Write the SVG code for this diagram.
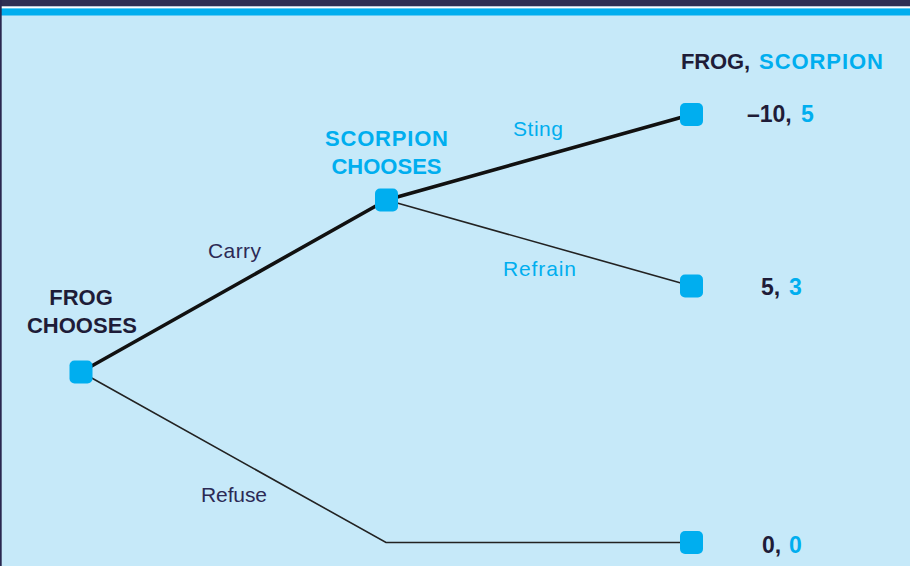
<svg xmlns="http://www.w3.org/2000/svg" width="910" height="566" viewBox="0 0 910 566">
  <style>
    .node { fill: #00aeef; }
    .thick { stroke: #111111; stroke-width: 3.6; fill: none; stroke-linecap: round; }
    .thin { stroke: #222222; stroke-width: 1.6; fill: none; }
    .head { font-family: "Liberation Sans", Arial, sans-serif; font-weight: bold; font-size: 22px; }
    .lbl { font-family: "Liberation Sans", Arial, sans-serif; font-size: 21px; }
    .pay { font-family: "Liberation Sans", Arial, sans-serif; font-weight: bold; font-size: 23px; }
    .dark { fill: #1e1c38; }
    .navy { fill: #2c2a55; }
    .blue { fill: #00aeef; }
  </style>

  <!-- panel background and top rule -->
  <rect x="0" y="0" width="910" height="566" fill="#c6e9f9"/>
  <rect x="0" y="0" width="910" height="6.5" fill="#302f54"/>
  <rect x="0" y="6.5" width="910" height="1.5" fill="#ffffff"/>
  <rect x="0" y="8.5" width="910" height="7" fill="#00aeef"/>
  <rect x="0" y="0" width="1.7" height="566" fill="#2a2850"/>

  <!-- branches -->
  <g id="connectors">
    <line class="thick" x1="81" y1="372" x2="386.5" y2="200"/>
    <line class="thick" x1="386.5" y1="200" x2="691.5" y2="114.5"/>
    <line class="thin" x1="386.5" y1="200" x2="691.5" y2="286"/>
    <polyline class="thin" points="81,372 386,542.5 691.5,542.5"/>
  </g>

  <!-- branch labels -->
  <g id="labels">
    <text class="lbl navy" x="208" y="258" textLength="53">Carry</text>
    <text class="lbl navy" x="201" y="501.5" textLength="66">Refuse</text>
    <text class="lbl blue" x="513" y="136" textLength="50">Sting</text>
    <text class="lbl blue" x="503" y="276" textLength="73">Refrain</text>
  </g>

  <g id="frog-chooses">
    <rect class="node" x="69.5" y="360.5" width="23" height="23" rx="5"/>
    <text class="head dark" x="81" y="305" text-anchor="middle">FROG</text>
    <text class="head dark" x="82" y="333" text-anchor="middle">CHOOSES</text>
  </g>

  <g id="scorpion-chooses">
    <rect class="node" x="375" y="188.5" width="23" height="23" rx="5"/>
    <text class="head blue" x="325" y="146" textLength="123">SCORPION</text>
    <text class="head blue" x="386.5" y="173.5" text-anchor="middle">CHOOSES</text>
  </g>

  <g id="payoff-header">
    <text class="head dark" x="681" y="69" textLength="69">FROG,</text>
    <text class="head blue" x="759" y="69" textLength="124">SCORPION</text>
  </g>

  <g id="outcome-sting">
    <rect class="node" x="680" y="103" width="23" height="23" rx="5"/>
    <text class="pay" x="747" y="122"><tspan class="dark">–10,</tspan><tspan class="blue" x="801">5</tspan></text>
  </g>

  <g id="outcome-refrain">
    <rect class="node" x="680" y="274.5" width="23" height="23" rx="5"/>
    <text class="pay" x="761" y="295"><tspan class="dark">5,</tspan><tspan class="blue" x="789">3</tspan></text>
  </g>

  <g id="outcome-refuse">
    <rect class="node" x="680" y="531" width="23" height="23" rx="5"/>
    <text class="pay" x="762" y="553"><tspan class="dark">0,</tspan><tspan class="blue" x="789">0</tspan></text>
  </g>
</svg>
